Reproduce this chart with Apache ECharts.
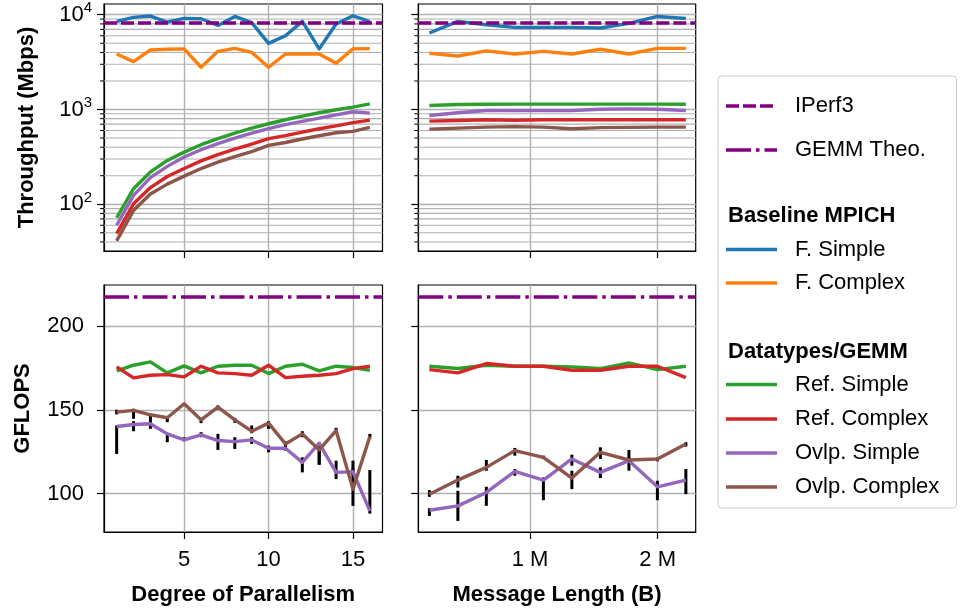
<!DOCTYPE html>
<html><head><meta charset="utf-8">
<script src="https://cdn.jsdelivr.net/npm/echarts@6.0.0/dist/echarts.min.js"></script>
<style>html,body{margin:0;padding:0;background:#fff}#c{width:960px;height:610px}</style>
</head><body><div id="c"></div>
<script>
// ---------------- data ----------------
const parallelism = [1,2,3,4,5,6,7,8,9,10,11,12,13,14,15,16];
const msgLenM = [0.212,0.435,0.658,0.881,1.105,1.328,1.551,1.775,1.998,2.221];

// Throughput (Mbps) vs degree of parallelism
const tpFSimplePar   = [8500,9370,9690,8380,9140,9080,7710,9590,8240,4990,6010,8500,4360,7980,9760,8440];
const tpFComplexPar  = [3850,3200,4250,4320,4360,2790,4110,4410,4010,2790,3850,3850,3850,3070,4360,4390];
const tpRefSimplePar = [72,146,219,290,355,425,492,564,636,707,779,850,923,993,1058,1148];
const tpRefComplexPar= [49,101,150,196,238,287,334,382,432,492,530,578,626,672,726,773];
const tpOvlpSimplePar= [60,124,191,251,315,376,436,499,564,627,691,748,810,879,946,915];
const tpOvlpComplexPar=[41,86,128,163,198,238,278,318,360,418,448,488,528,568,588,648];

// Throughput (Mbps) vs message length
const tpFSimpleMsg   = [6410,8500,7850,7350,7350,7350,7240,8100,9590,9140];
const tpFComplexMsg  = [3920,3670,4150,3850,4110,3850,4320,3850,4410,4410];
const tpRefSimpleMsg = [1100,1130,1137,1140,1140,1140,1140,1140,1140,1137];
const tpRefComplexMsg= [754,765,779,770,779,779,779,779,779,779];
const tpOvlpSimpleMsg= [865,923,976,976,976,976,1007,1015,1007,976];
const tpOvlpComplexMsg=[621,636,652,660,652,627,643,648,652,652];

// GFLOPS vs degree of parallelism
const gfRefSimplePar   = [173.2,176.6,178.6,172,176.2,172,176,176.6,176.6,171.6,176,177.2,173.2,176,175.2,173.6];
const gfRefComplexPar  = [175.6,169,170.6,171,169.6,176,172,171.6,170.6,176.6,169.2,170,170.6,171.6,174.6,176];
const gfOvlpSimplePar  = [140,141.2,141.6,135.6,132,135,131.6,131,132,127,127,118.6,130,112.6,113,89.6];
const gfOvlpComplexPar = [148.6,149.6,147,145.2,153.6,144,151.6,144,137.2,142,129.6,135.6,126,137.6,102.6,134];
const errLoOvlpSimplePar  = [123.6,137.2,138.6,130.6,131.2,133.6,126,126.6,129.6,124.6,125.6,112.6,117.2,108.6,111,88];
const errHiOvlpSimplePar  = [140.6,143.2,142.6,136,133.6,136.6,135.6,133.6,133.6,128.6,128.6,121.6,130.6,119.6,115,114];
const errLoOvlpComplexPar = [147.2,144.6,141.6,142.6,152.4,142,150,142.2,136,138.6,127.6,133.6,117.2,136.6,92.6,132.6];
const errHiOvlpComplexPar = [150,150.6,147.6,146,154,145,152.6,145.2,140.6,143.2,131.2,137.2,128.6,139.2,119.6,135.6];

// GFLOPS vs message length
const gfRefSimpleMsg   = [176,174.6,176.6,176,176,175.6,174.6,178,174,176];
const gfRefComplexMsg  = [174,172,177.6,176,176,173.6,173.6,176,176,169.2];
const gfOvlpSimpleMsg  = [90,92.6,100.6,113.2,108,120.6,112.6,119.6,104,108];
const gfOvlpComplexMsg = [99.6,108,115.6,125.6,121.6,109.2,124.6,120,120.6,129.6];
const errLoOvlpSimpleMsg  = [86.6,83.6,92.6,110.6,96,116.6,109.2,113.6,96,99.6];
const errHiOvlpSimpleMsg  = [91.2,101.6,104,114.6,109.6,123.2,115.6,121.6,107.6,114.6];
const errLoOvlpComplexMsg = [98,103.6,113.6,122.6,120.6,102.6,120.6,118.6,119.2,128];
const errHiOvlpComplexMsg = [102,110.6,120,127.2,122.6,113.6,127.6,126,121.6,130.6];

const iperf3Mbps = 8240;
const gemmTheoGflops = 217.6;

// ticks
const parTicks = [5,10,15];
const msgTicks = [1,2];
const logMajorTicks = [100,1000,10000];
const logMinorTicks = [40,50,60,70,80,90,200,300,400,500,600,700,800,900,2000,3000,4000,5000,6000,7000,8000,9000];
const gfTicks = [100,150,200];

// ---------------- style ----------------
const FONT = '"Liberation Sans", Arial, Helvetica, sans-serif';
const GRIDC = '#b0b0b0';
const C = {blue:'#1f77b4', orange:'#ff7f0e', green:'#2ca02c', red:'#d62728', purple:'#9467bd', brown:'#8c564b', ref:'#800080'};
const PAR_RANGE = [0.25, 16.75];
const MSG_RANGE = [0.125, 2.298];
const TP_RANGE = [32.1, 12980];
const GF_RANGE = [77.0, 224.5];
const LW = 3.4;

function gridDef(left, top, width) {
  return {left, top, width, height: 247, show: true, borderColor: '#000', borderWidth: 1.2,
          backgroundColor: 'transparent', containLabel: false, outerBoundsMode: 'none'};
}
function xAxisDef(gi, range, ticks, showLabel, fmt, name) {
  return {
    type: 'value', gridIndex: gi, min: range[0], max: range[1], position: 'bottom',
    axisLine: {show: true, onZero: false, lineStyle: {color: '#000', width: 1.2}},
    axisTick: {show: true, inside: false, length: 7, lineStyle: {color: '#000', width: 1.2}, customValues: ticks},
    axisLabel: {show: showLabel, customValues: ticks, formatter: fmt, fontSize: 22, fontFamily: FONT, color: '#000', margin: 17},
    splitLine: {show: true, lineStyle: {color: GRIDC, width: 1.4}},
    name: name || '', nameLocation: 'middle', nameGap: 52,
    nameTextStyle: {fontSize: 22, fontWeight: 'bold', fontFamily: FONT, color: '#000'}
  };
}
function yAxisDef(gi, isLog, showLabel, name, nameGap) {
  const range = isLog ? TP_RANGE : GF_RANGE;
  const ticks = isLog ? logMajorTicks : gfTicks;
  const lab = {show: showLabel, customValues: ticks, fontSize: 22, fontFamily: FONT, color: '#000', margin: isLog ? 12 : 20};
  if (isLog) {
    lab.formatter = v => '{b|10}{s|' + Math.round(Math.log10(v)) + '}';
    lab.rich = {
      b: {fontSize: 22, fontFamily: FONT, color: '#000', lineHeight: 22, verticalAlign: 'bottom'},
      s: {fontSize: 15, fontFamily: FONT, color: '#000', lineHeight: 15, padding: [0, 0, 10, 0], verticalAlign: 'bottom'}
    };
  }
  return {
    type: isLog ? 'log' : 'value', logBase: 10, gridIndex: gi, min: range[0], max: range[1], position: 'left',
    axisLine: {show: true, onZero: false, lineStyle: {color: '#000', width: 1.2}},
    axisTick: {show: true, inside: false, length: 7, lineStyle: {color: '#000', width: 1.2}, customValues: ticks},
    axisLabel: lab,
    splitLine: {show: true, lineStyle: {color: GRIDC, width: 1.4}},
    minorTick: {show: false}, minorSplitLine: {show: false},
    name: name || '', nameLocation: 'middle', nameGap: nameGap || 60,
    nameTextStyle: {fontSize: 22, fontWeight: 'bold', fontFamily: FONT, color: '#000'}
  };
}
function lineSeries(gi, xs, ys, color, extra) {
  return Object.assign({
    type: 'line', xAxisIndex: gi, yAxisIndex: gi, z: 3, silent: true,
    data: xs.map((x, i) => [x, ys[i]]),
    showSymbol: false, symbol: 'none',
    lineStyle: {color, width: LW, join: 'round'}, itemStyle: {color}
  }, extra || {});
}
function refLine(value, dash) {
  return {silent: true, symbol: ['none', 'none'], z: 5, label: {show: false}, animation: false,
          lineStyle: {color: C.ref, width: 3.6, type: dash}, emphasis: {disabled: true},
          data: [{yAxis: value}]};
}
function errSeries(gi, xs, lo, hi) {
  return {
    type: 'custom', xAxisIndex: gi, yAxisIndex: gi, z: 2, silent: true,
    data: xs.map((x, i) => [x, lo[i], hi[i]]),
    encode: {x: 0, y: [1, 2]},
    renderItem: (p, api) => {
      const a = api.coord([api.value(0), api.value(1)]);
      const b = api.coord([api.value(0), api.value(2)]);
      return {type: 'line', shape: {x1: a[0], y1: a[1], x2: b[0], y2: b[1]}, style: {stroke: '#000', lineWidth: 3}};
    }
  };
}
function minorLogSeries(gi, xr) {
  return {
    type: 'custom', xAxisIndex: gi, yAxisIndex: gi, z: 1, silent: true, clip: false,
    data: logMinorTicks.map(v => [xr[0], v]),
    encode: {x: 0, y: 1},
    renderItem: (p, api) => {
      const v = api.value(1);
      const a = api.coord([xr[0], v]);
      const b = api.coord([xr[1], v]);
      return {type: 'group', children: [
        {type: 'line', shape: {x1: a[0], y1: a[1], x2: b[0], y2: b[1]}, style: {stroke: GRIDC, lineWidth: 1.1}},
        {type: 'line', shape: {x1: a[0] - 4, y1: a[1], x2: a[0], y2: a[1]}, style: {stroke: '#000', lineWidth: 1}}
      ]};
    }
  };
}

// ---------------- legend (graphic) ----------------
const LX0 = 726, LX1 = 777, LTX = 795;
function legLine(y, color, dash, text) {
  return [
    {type: 'line', shape: {x1: LX0, y1: y, x2: LX1, y2: y}, style: {stroke: color, lineWidth: dash ? 3.6 : LW, lineDash: dash || null}},
    {type: 'text', x: LTX, y: y, style: {text, font: '22px ' + FONT, fill: '#000', textVerticalAlign: 'middle'}}
  ];
}
const legendEls = [
  {type: 'rect', shape: {x: 718, y: 76, width: 238.5, height: 432, r: 4}, style: {fill: '#fff', stroke: '#cccccc', lineWidth: 1}},
  ...legLine(106, C.ref, [13, 4], 'IPerf3'),
  ...legLine(150, C.ref, [25, 5, 3.5, 5], 'GEMM Theo.'),
  {type: 'text', x: 728, y: 216, style: {text: 'Baseline MPICH', font: 'bold 22px ' + FONT, fill: '#000', textVerticalAlign: 'middle'}},
  ...legLine(249.5, C.blue, null, 'F. Simple'),
  ...legLine(283, C.orange, null, 'F. Complex'),
  {type: 'text', x: 728, y: 352, style: {text: 'Datatypes/GEMM', font: 'bold 22px ' + FONT, fill: '#000', textVerticalAlign: 'middle'}},
  ...legLine(384.5, C.green, null, 'Ref. Simple'),
  ...legLine(419, C.red, null, 'Ref. Complex'),
  ...legLine(453, C.purple, null, 'Ovlp. Simple'),
  ...legLine(487, C.brown, null, 'Ovlp. Complex')
];

// ---------------- option ----------------
const msgFmt = v => v + ' M';
const option = {
  animation: false,
  backgroundColor: '#fff',
  grid: [gridDef(104, 4, 278.5), gridDef(418.3, 4, 277.4), gridDef(104, 285, 278.5), gridDef(418.3, 285, 277.4)],
  xAxis: [
    xAxisDef(0, PAR_RANGE, parTicks, false),
    xAxisDef(1, MSG_RANGE, msgTicks, false),
    xAxisDef(2, PAR_RANGE, parTicks, true, v => String(v), 'Degree of Parallelism'),
    xAxisDef(3, MSG_RANGE, msgTicks, true, msgFmt, 'Message Length (B)')
  ],
  yAxis: [
    yAxisDef(0, true, true, 'Throughput (Mbps)', 66),
    yAxisDef(1, true, false),
    yAxisDef(2, false, true, 'GFLOPS', 70),
    yAxisDef(3, false, false)
  ],
  series: [
    minorLogSeries(0, PAR_RANGE),
    minorLogSeries(1, MSG_RANGE),
    // top-left
    lineSeries(0, parallelism, tpFSimplePar, C.blue, {markLine: refLine(iperf3Mbps, [13, 4])}),
    lineSeries(0, parallelism, tpFComplexPar, C.orange),
    lineSeries(0, parallelism, tpRefSimplePar, C.green),
    lineSeries(0, parallelism, tpRefComplexPar, C.red),
    lineSeries(0, parallelism, tpOvlpSimplePar, C.purple),
    lineSeries(0, parallelism, tpOvlpComplexPar, C.brown),
    // top-right
    lineSeries(1, msgLenM, tpFSimpleMsg, C.blue, {markLine: refLine(iperf3Mbps, [13, 4])}),
    lineSeries(1, msgLenM, tpFComplexMsg, C.orange),
    lineSeries(1, msgLenM, tpRefSimpleMsg, C.green),
    lineSeries(1, msgLenM, tpRefComplexMsg, C.red),
    lineSeries(1, msgLenM, tpOvlpSimpleMsg, C.purple),
    lineSeries(1, msgLenM, tpOvlpComplexMsg, C.brown),
    // bottom-left
    errSeries(2, parallelism, errLoOvlpSimplePar, errHiOvlpSimplePar),
    errSeries(2, parallelism, errLoOvlpComplexPar, errHiOvlpComplexPar),
    lineSeries(2, parallelism, gfRefSimplePar, C.green, {markLine: refLine(gemmTheoGflops, [25, 5, 3.5, 5])}),
    lineSeries(2, parallelism, gfRefComplexPar, C.red),
    lineSeries(2, parallelism, gfOvlpSimplePar, C.purple),
    lineSeries(2, parallelism, gfOvlpComplexPar, C.brown),
    // bottom-right
    errSeries(3, msgLenM, errLoOvlpSimpleMsg, errHiOvlpSimpleMsg),
    errSeries(3, msgLenM, errLoOvlpComplexMsg, errHiOvlpComplexMsg),
    lineSeries(3, msgLenM, gfRefSimpleMsg, C.green, {markLine: refLine(gemmTheoGflops, [25, 5, 3.5, 5])}),
    lineSeries(3, msgLenM, gfRefComplexMsg, C.red),
    lineSeries(3, msgLenM, gfOvlpSimpleMsg, C.purple),
    lineSeries(3, msgLenM, gfOvlpComplexMsg, C.brown)
  ],
  graphic: legendEls
};
const chart = echarts.init(document.getElementById('c'), null, {renderer: 'canvas'});
chart.setOption(option);
</script>
</body></html>
